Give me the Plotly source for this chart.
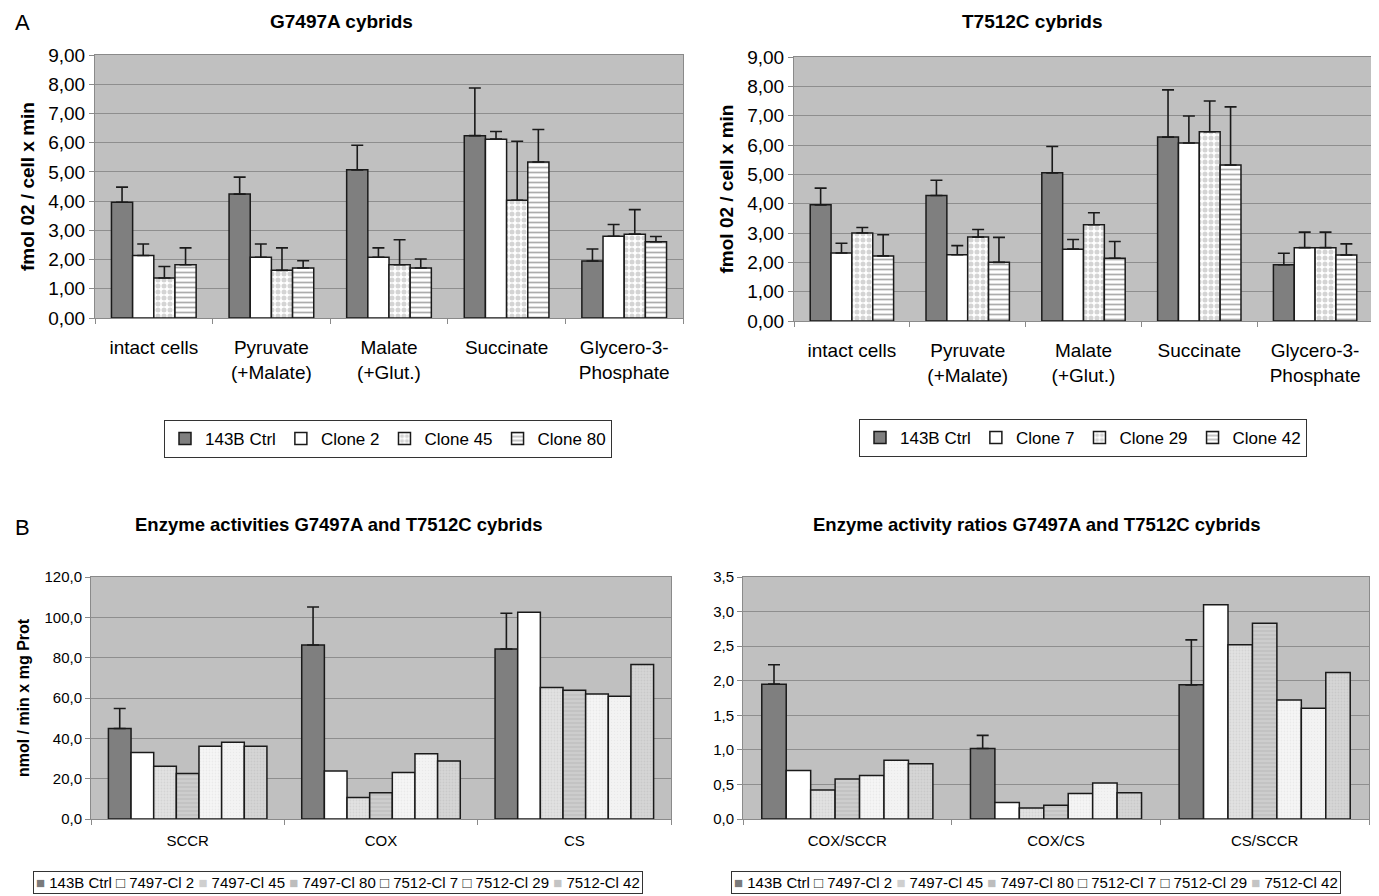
import plotly.graph_objects as go

# page body has an 8px default margin: the figure is sized/offset to compensate
W, H = 1379, 896
OX, OY = 8, 8
FW, FH = W - OX, H - OY
FONT = "Liberation Sans, Arial, sans-serif"

# ---------------- data ----------------
resp_categories = ["intact cells", "Pyruvate<br>(+Malate)", "Malate<br>(+Glut.)",
                   "Succinate", "Glycero-3-<br>Phosphate"]

g7497_names = ["143B Ctrl", "Clone 2", "Clone 45", "Clone 80"]
g7497_means = [
    [3.96, 4.24, 5.07, 6.24, 1.95],
    [2.14, 2.08, 2.08, 6.12, 2.80],
    [1.37, 1.63, 1.82, 4.03, 2.87],
    [1.82, 1.71, 1.71, 5.34, 2.61],
]
g7497_sd = [
    [0.52, 0.58, 0.84, 1.63, 0.41],
    [0.39, 0.45, 0.32, 0.26, 0.40],
    [0.39, 0.77, 0.86, 2.02, 0.84],
    [0.58, 0.25, 0.31, 1.11, 0.18],
]

t7512_names = ["143B Ctrl", "Clone 7", "Clone 29", "Clone 42"]
t7512_means = [
    [3.96, 4.28, 5.05, 6.27, 1.92],
    [2.32, 2.26, 2.45, 6.07, 2.50],
    [3.00, 2.86, 3.28, 6.45, 2.50],
    [2.22, 2.00, 2.14, 5.32, 2.25],
]
t7512_sd = [
    [0.57, 0.52, 0.90, 1.61, 0.39],
    [0.33, 0.31, 0.33, 0.92, 0.53],
    [0.19, 0.26, 0.41, 1.05, 0.53],
    [0.72, 0.85, 0.57, 1.98, 0.38],
]

enz_categories = ["SCCR", "COX", "CS"]
ratio_categories = ["COX/SCCR", "COX/CS", "CS/SCCR"]
enz_names = ["143B Ctrl", "7497-Cl 2", "7497-Cl 45", "7497-Cl 80",
             "7512-Cl 7", "7512-Cl 29", "7512-Cl 42"]
enz_means = [
    [44.9, 86.3, 84.3],
    [33.0, 23.8, 102.5],
    [26.2, 10.6, 65.2],
    [22.6, 13.0, 63.9],
    [36.1, 23.1, 62.0],
    [38.0, 32.3, 60.9],
    [36.1, 28.7, 76.6],
]
enz_ctrl_sd = [9.9, 18.8, 17.7]

ratio_means = [
    [1.95, 1.02, 1.94],
    [0.70, 0.24, 3.10],
    [0.42, 0.16, 2.52],
    [0.58, 0.20, 2.83],
    [0.63, 0.37, 1.72],
    [0.85, 0.52, 1.60],
    [0.80, 0.38, 2.12],
]
ratio_ctrl_sd = [0.28, 0.19, 0.65]

# ---------------- styles ----------------
top_styles = [
    dict(color="#7f7f7f"),
    dict(color="white"),
    dict(color="white", pattern=dict(shape=".", fgcolor="#a9a9a9", bgcolor="white",
                                     size=6, solidity=0.55)),
    dict(color="white", pattern=dict(shape="-", fgcolor="#5c5c5c", bgcolor="white",
                                     size=5, solidity=0.35)),
]
bot_styles = [
    dict(color="#7f7f7f"),
    dict(color="white"),
    dict(color="#dcdcdc", pattern=dict(shape=".", fgcolor="#c6c6c6", bgcolor="#e2e2e2", size=3, solidity=0.3)),
    dict(color="#c6c6c6", pattern=dict(shape="-", fgcolor="#b4b4b4", bgcolor="#cdcdcd", size=4, solidity=0.4)),
    dict(color="#f3f3f3", pattern=dict(shape=".", fgcolor="#dedede", bgcolor="#f6f6f6", size=3, solidity=0.3)),
    dict(color="#efefef", pattern=dict(shape=".", fgcolor="#e0e0e0", bgcolor="#f3f3f3", size=3, solidity=0.2)),
    dict(color="#cfcfcf", pattern=dict(shape=".", fgcolor="#bcbcbc", bgcolor="#d6d6d6", size=3, solidity=0.3)),
]
bot_legend_glyphs = [("■", "#7a7a7a"), ("□", "#222"), ("■", "#cfcfcf"), ("■", "#bdbdbd"),
                     ("□", "#222"), ("□", "#222"), ("■", "#c4c4c4")]

fig = go.Figure()


def add_group(cats, names, means, sds, styles, xa, ya, group_width, legend=None,
              ctrl_only_err=False):
    n = len(names)
    w = group_width / n
    for i, (name, vals) in enumerate(zip(names, means)):
        st = styles[i]
        marker = dict(color=st["color"], line=dict(color="#1a1a1a", width=1.5))
        if "pattern" in st:
            marker["pattern"] = st["pattern"]
        err = None
        sd = None
        if ctrl_only_err:
            if i == 0:
                sd = sds
        else:
            sd = sds[i]
        if sd is not None:
            err = dict(type="data", symmetric=False, array=sd, arrayminus=[0] * len(sd),
                       color="#1a1a1a", thickness=1.6, width=6, visible=True)
        fig.add_trace(go.Bar(
            x=cats, y=vals, name=name, marker=marker, error_y=err,
            width=w, offset=-group_width / 2 + i * w,
            xaxis=xa, yaxis=ya,
            showlegend=legend is not None, legend=legend if legend else "legend",
        ))


add_group(resp_categories, g7497_names, g7497_means, g7497_sd, top_styles, "x", "y", 0.72, "legend")
add_group(resp_categories, t7512_names, t7512_means, t7512_sd, top_styles, "x2", "y2", 0.72, "legend2")
add_group(enz_categories, enz_names, enz_means, enz_ctrl_sd, bot_styles, "x3", "y3", 0.82, None, True)
add_group(ratio_categories, enz_names, ratio_means, ratio_ctrl_sd, bot_styles, "x4", "y4", 0.82, None, True)


def px(a):
    return (a - OX) / FW


def py(b):
    return 1 - (b - OY) / FH


def xd(a, b):
    return [px(a), px(b)]


def yd(top, bottom):
    return [py(bottom), py(top)]


GRID = "#8e8e8e"
LINE = "#8a8a8a"


def xaxis(domain, anchor, size, standoff):
    return dict(domain=domain, anchor=anchor, type="category", showline=True, mirror=True,
                linecolor=LINE, linewidth=1, ticks="outside", ticklen=5, tickcolor=LINE,
                tickson="boundaries", showgrid=False, zeroline=False,
                tickfont=dict(size=size, color="black", family=FONT),
                ticklabelstandoff=standoff, automargin=False, fixedrange=True)


def yaxis(domain, anchor, rng, dtick, fmt, size, title=None, tsize=None, standoff=None):
    d = dict(domain=domain, anchor=anchor, range=rng, dtick=dtick, tickformat=fmt,
             showline=True, mirror=True, linecolor=LINE, linewidth=1,
             ticks="outside", ticklen=5, tickcolor=LINE,
             showgrid=True, gridcolor=GRID, gridwidth=1, zeroline=False,
             tickfont=dict(size=size, color="black", family=FONT), automargin=False)
    if title:
        d["title"] = dict(text=title, font=dict(size=tsize, color="black", family=FONT),
                          standoff=standoff)
    return d


fig.update_layout(
    width=FW, height=FH,
    margin=dict(l=0, r=0, t=0, b=0),
    paper_bgcolor="white",
    plot_bgcolor="#c0c0c0",
    separators=",.",
    barmode="group",
    font=dict(family=FONT, color="black"),
    xaxis=xaxis(xd(95, 683), "y", 19, 12),
    yaxis=yaxis(yd(55, 318), "x", [0, 9], 1, ".2f", 19,
                "<b>fmol 02 / cell x min</b>", 19, 8),
    xaxis2=xaxis(xd(794, 1373), "y2", 19, 12),
    yaxis2=yaxis(yd(57, 321), "x2", [0, 9], 1, ".2f", 19,
                 "<b>fmol 02 / cell x min</b>", 19, 8),
    xaxis3=xaxis(xd(91, 671), "y3", 15, 8),
    yaxis3=yaxis(yd(577, 819), "x3", [0, 120], 20, ".1f", 15,
                 "<b>nmol / min x mg Prot</b>", 16, 10),
    xaxis4=xaxis(xd(743, 1369), "y4", 15, 8),
    yaxis4=yaxis(yd(577, 819), "x4", [0, 3.5], 0.5, ".1f", 15),
    legend=dict(x=px(388), y=py(439), xanchor="center", yanchor="middle",
                orientation="h", bordercolor="#333", borderwidth=1, bgcolor="white",
                font=dict(size=17, family=FONT), itemwidth=30),
    legend2=dict(x=px(1083), y=py(438), xanchor="center", yanchor="middle",
                 orientation="h", bordercolor="#333", borderwidth=1, bgcolor="white",
                 font=dict(size=17, family=FONT), itemwidth=30),
    showlegend=True,
)

ann = [
    dict(text="A", x=px(22), y=py(23), yanchor="middle", font=dict(size=22)),
    dict(text="B", x=px(22), y=py(527), yanchor="middle", font=dict(size=22)),
    dict(text="<b>G7497A cybrids</b>", x=px(341), y=py(8.5), yanchor="top", font=dict(size=19)),
    dict(text="<b>T7512C cybrids</b>", x=px(1032), y=py(8.5), yanchor="top", font=dict(size=19)),
    dict(text="<b>Enzyme activities G7497A and T7512C cybrids</b>", x=px(339), y=py(524),
         yanchor="middle", font=dict(size=18.5)),
    dict(text="<b>Enzyme activity ratios G7497A and T7512C cybrids</b>", x=px(1037), y=py(524),
         yanchor="middle", font=dict(size=18.5)),
]
for a in ann:
    a.update(xref="paper", yref="paper", showarrow=False, xanchor="center")
    a["font"].update(family=FONT, color="black")
    fig.add_annotation(**a)

legend_text = " ".join(
    f"<span style='color:{c}'>{g}</span> {n}" for (g, c), n in zip(bot_legend_glyphs, enz_names)
)
for cx in (338, 1036):
    fig.add_annotation(text=legend_text, xref="paper", yref="paper", x=px(cx), y=py(871),
                       xanchor="center", yanchor="top", showarrow=False,
                       bordercolor="#333", borderwidth=1, borderpad=2, bgcolor="white",
                       font=dict(size=15, family=FONT, color="black"))

fig.write_html("out.html")
